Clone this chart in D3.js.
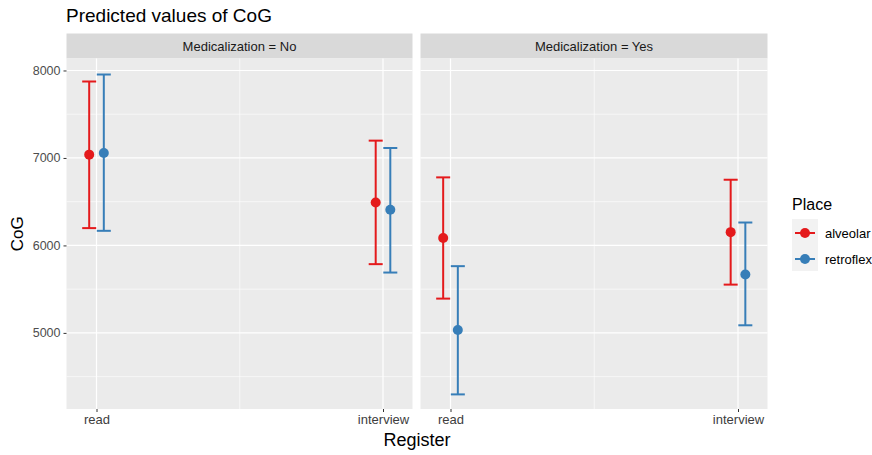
<!DOCTYPE html>
<html>
<head>
<meta charset="utf-8">
<script src="https://cdn.jsdelivr.net/npm/d3@7"></script>
<style>
  body { margin: 0; background: #fff; }
  text { font-family: "Liberation Sans", Arial, sans-serif; }
</style>
</head>
<body>
<script>
// data
var panels = ["No", "Yes"];
var registers = ["read", "interview"];
var places = ["alveolar", "retroflex"];
var colors = ["#e41a1c", "#377eb8"];

// [panel][register] for each place
var alveolarFit = [[7038, 6491], [6084, 6152]];
var alveolarLow = [[6198, 5786], [5392, 5552]];
var alveolarHigh = [[7874, 7198], [6778, 6751]];
var retroflexFit = [[7057, 6408], [5033, 5667]];
var retroflexLow = [[6167, 5690], [4297, 5087]];
var retroflexHigh = [[7954, 7114], [5763, 6262]];

var yTicks = [5000, 6000, 7000, 8000];
var yMinor = [4500, 5500, 6500, 7500];

var rows = [];
panels.forEach((p, pi) => {
    registers.forEach((r, ri) => {
        rows.push({panel: pi, reg: ri + 1, place: 0, fit: alveolarFit[pi][ri], lo: alveolarLow[pi][ri], hi: alveolarHigh[pi][ri]});
        rows.push({panel: pi, reg: ri + 1, place: 1, fit: retroflexFit[pi][ri], lo: retroflexLow[pi][ri], hi: retroflexHigh[pi][ri]});
    });
});

var width = 872, height = 455;
var panelBox = [[66.5, 412.5], [420.5, 767.5]];
var plotTop = 58.5, plotBottom = 409;
var dodge = 0.0255;

var svg = d3.select("body").append("svg")
    .attr("width", width)
    .attr("height", height);

var yScale = d3.scaleLinear()
    .domain([4130, 8137])
    .range([plotBottom, plotTop]);

svg.append("text")
    .attr("x", 66)
    .attr("y", 22)
    .attr("font-size", "19px")
    .attr("fill", "#000")
    .text("Predicted values of CoG");

panels.forEach((p, pi) => {
    var x0 = panelBox[pi][0], x1 = panelBox[pi][1];
    var xScale = d3.scaleLinear().domain([1, 2]).range([x0 + 30, x1 - 29.5]);
    var g = svg.append("g");

    // strip
    g.append("rect")
        .attr("x", x0).attr("y", 33.5)
        .attr("width", x1 - x0).attr("height", plotTop - 33.5)
        .attr("fill", "#d9d9d9");
    g.append("text")
        .attr("x", (x0 + x1) / 2).attr("y", 50.5)
        .attr("text-anchor", "middle")
        .attr("font-size", "13px")
        .attr("fill", "#1a1a1a")
        .text("Medicalization = " + p);

    // panel background
    g.append("rect")
        .attr("x", x0).attr("y", plotTop)
        .attr("width", x1 - x0).attr("height", plotBottom - plotTop)
        .attr("fill", "#ebebeb");

    // grid
    g.selectAll(".ymin").data(yMinor).enter().append("line")
        .attr("x1", x0).attr("x2", x1)
        .attr("y1", d => yScale(d)).attr("y2", d => yScale(d))
        .attr("stroke", "#fff").attr("stroke-width", 0.6);
    g.selectAll(".ymaj").data(yTicks).enter().append("line")
        .attr("x1", x0).attr("x2", x1)
        .attr("y1", d => yScale(d)).attr("y2", d => yScale(d))
        .attr("stroke", "#fff").attr("stroke-width", 1.2);
    g.append("line")
        .attr("x1", xScale(1.5)).attr("x2", xScale(1.5))
        .attr("y1", plotTop).attr("y2", plotBottom)
        .attr("stroke", "#fff").attr("stroke-width", 0.6);
    g.selectAll(".xmaj").data([1, 2]).enter().append("line")
        .attr("x1", d => xScale(d)).attr("x2", d => xScale(d))
        .attr("y1", plotTop).attr("y2", plotBottom)
        .attr("stroke", "#fff").attr("stroke-width", 1.2);

    // x axis
    var xAxis = d3.axisBottom(xScale)
        .tickValues([1, 2])
        .tickFormat(d => registers[d - 1])
        .tickSize(3).tickPadding(3);
    var ax = g.append("g")
        .attr("transform", "translate(0," + plotBottom + ")")
        .call(xAxis);
    ax.select(".domain").remove();
    ax.selectAll(".tick line").attr("stroke", "#333").attr("stroke-width", 1);
    ax.selectAll(".tick text")
        .attr("font-size", "13px")
        .attr("fill", "#3d3d3d")
        .attr("font-family", "Liberation Sans, Arial, sans-serif");

    // error bars and points
    var data = rows.filter(d => d.panel === pi);
    var xp = d => xScale(d.reg + (d.place === 0 ? -dodge : dodge));
    var marks = g.selectAll(".mark").data(data).enter().append("g");
    marks.append("line")
        .attr("x1", xp).attr("x2", xp)
        .attr("y1", d => yScale(d.lo)).attr("y2", d => yScale(d.hi))
        .attr("stroke", d => colors[d.place]).attr("stroke-width", 2);
    marks.append("line")
        .attr("x1", d => xp(d) - 7).attr("x2", d => xp(d) + 7)
        .attr("y1", d => yScale(d.hi)).attr("y2", d => yScale(d.hi))
        .attr("stroke", d => colors[d.place]).attr("stroke-width", 2);
    marks.append("line")
        .attr("x1", d => xp(d) - 7).attr("x2", d => xp(d) + 7)
        .attr("y1", d => yScale(d.lo)).attr("y2", d => yScale(d.lo))
        .attr("stroke", d => colors[d.place]).attr("stroke-width", 2);
    marks.append("circle")
        .attr("cx", xp).attr("cy", d => yScale(d.fit))
        .attr("r", 5)
        .attr("fill", d => colors[d.place]);
});

// y axis
var yAxis = d3.axisLeft(yScale).tickValues(yTicks).tickFormat(d3.format("d")).tickSize(3).tickPadding(3);
var ay = svg.append("g")
    .attr("transform", "translate(" + panelBox[0][0] + ",0)")
    .call(yAxis);
ay.select(".domain").remove();
ay.selectAll(".tick line").attr("stroke", "#333");
ay.selectAll(".tick text")
    .attr("font-size", "12.5px")
    .attr("fill", "#4d4d4d")
    .attr("font-family", "Liberation Sans, Arial, sans-serif");

// axis titles
svg.append("text")
    .attr("transform", "translate(23," + ((plotTop + plotBottom) / 2) + ") rotate(-90)")
    .attr("text-anchor", "middle")
    .attr("font-size", "17px")
    .text("CoG");
svg.append("text")
    .attr("x", (panelBox[0][0] + panelBox[1][1]) / 2)
    .attr("y", 446)
    .attr("text-anchor", "middle")
    .attr("font-size", "18px")
    .text("Register");

// legend
var lg = svg.append("g");
lg.append("text")
    .attr("x", 792).attr("y", 210)
    .attr("font-size", "16px")
    .text("Place");
lg.append("rect")
    .attr("x", 792).attr("y", 219)
    .attr("width", 26).attr("height", 52)
    .attr("fill", "#f2f2f2");
places.forEach((p, i) => {
    var cy = 233 + i * 26;
    lg.append("line")
        .attr("x1", 795).attr("x2", 815)
        .attr("y1", cy).attr("y2", cy)
        .attr("stroke", colors[i]).attr("stroke-width", 2);
    lg.append("circle")
        .attr("cx", 805).attr("cy", cy).attr("r", 5)
        .attr("fill", colors[i]);
    lg.append("text")
        .attr("x", 825).attr("y", cy + 4.5)
        .attr("font-size", "13px")
        .text(p);
});
</script>
</body>
</html>
